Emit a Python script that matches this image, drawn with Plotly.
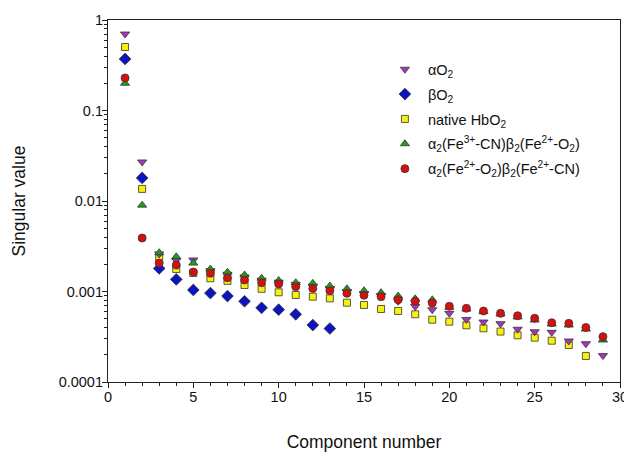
import plotly.graph_objects as go

components = list(range(1, 30))

alpha_O2 = [0.70, 0.027, 0.0026, 0.0022, 0.00223, 0.0017, 0.00155, 0.00145, 0.00133,
            0.00127, 0.0012, 0.00115, 0.00108, 0.001, 0.00095, 0.0009, 0.00078, 0.000683,
            0.000629, 0.000574, 0.000491, 0.00046, 0.000441, 0.000383, 0.000359, 0.000354,
            0.000284, 0.000265, 0.000196]
beta_O2 = [0.371, 0.018, 0.0018, 0.00136, 0.00104, 0.00096, 0.00089, 0.00078, 0.00066,
           0.00063, 0.00056, 0.000426, 0.00039]
native_HbO2 = [0.503, 0.0136, 0.00234, 0.00177, 0.0016, 0.0014, 0.00131, 0.00118, 0.00107,
               0.00098, 0.000915, 0.000876, 0.00084, 0.000752, 0.00071, 0.000641, 0.000609,
               0.00056, 0.000488, 0.000464, 0.000423, 0.000392, 0.000361, 0.000328, 0.000309,
               0.000286, 0.000256, 0.000194]
fe3cn_alpha = [0.20, 0.0090, 0.00268, 0.00242, 0.00206, 0.00177, 0.00163, 0.00152, 0.0014,
               0.00132, 0.00125, 0.00123, 0.00115, 0.00107, 0.00102, 0.00097, 0.00089,
               0.00083, 0.00081, 0.00067, 0.00064, 0.0006, 0.000564, 0.000523, 0.000484,
               0.000437, 0.000426, 0.000385, 0.000291]
fe2cn_beta = [0.229, 0.0039, 0.00206, 0.00196, 0.00164, 0.00159, 0.00142, 0.00134, 0.00125,
              0.00121, 0.00113, 0.00108, 0.00102, 0.000955, 0.000908, 0.000876, 0.000812,
              0.000781, 0.000746, 0.000686, 0.000652, 0.000609, 0.000574, 0.00054, 0.000506,
              0.000452, 0.000445, 0.0004, 0.000317]

y_tick_vals = [1, 0.1, 0.01, 0.001, 0.0001]
y_tick_text = ["1", "0.1", "0.01", "0.001", "0.0001"]

names = [
    "αO<sub>2</sub>",
    "βO<sub>2</sub>",
    "native HbO<sub>2</sub>",
    "α<sub>2</sub>(Fe<sup>3+</sup>-CN)β<sub>2</sub>(Fe<sup>2+</sup>-O<sub>2</sub>)",
    "α<sub>2</sub>(Fe<sup>2+</sup>-O<sub>2</sub>)β<sub>2</sub>(Fe<sup>2+</sup>-CN)",
]
series = [alpha_O2, beta_O2, native_HbO2, fe3cn_alpha, fe2cn_beta]
symbols = ["triangle-down", "diamond", "square", "triangle-up", "circle"]
colors = ["#A23AB5", "#0A14C0", "#F6F20A", "#1AA01A", "#D80F0F"]
sizes = [8, 9, 7, 8, 8]

minor_vals = [k * 10.0 ** e for e in range(-4, 0) for k in range(2, 10)]

fig = go.Figure()
order = [2, 1, 0, 3, 4]
for i in order:
    vals = series[i]
    fig.add_trace(go.Scatter(
        x=components[:len(vals)], y=vals, mode="markers", name=names[i],
        legendgroup="g%d" % i,
        marker=dict(symbol=symbols[i], color=colors[i], size=sizes[i],
                    line=dict(color="#333333", width=0.8)),
        legendrank=i + 1,
    ))

axis_font = dict(family="Liberation Sans, Arial, sans-serif", size=14.5, color="#111")
fig.update_layout(
    width=624, height=444,
    margin=dict(l=100, r=12, t=12, b=70),
    paper_bgcolor="white", plot_bgcolor="white",
    font=dict(family="Liberation Sans, Arial, sans-serif", size=14, color="#111"),
    showlegend=True,
    legend=dict(x=0.535, y=0.908, xanchor="left", yanchor="top",
                bgcolor="rgba(0,0,0,0)", font=dict(size=14.5), tracegroupgap=3,
                itemwidth=36),
    xaxis=dict(range=[0, 30], tickmode="linear", tick0=0, dtick=5,
               ticks="outside", ticklen=5, tickwidth=1, tickcolor="#222",
               ticklabelstandoff=-4,
               minor=dict(ticks="outside", ticklen=3, dtick=1, tickcolor="#222"),
               showline=True, linecolor="#222", linewidth=1.2, mirror=True,
               showgrid=False, zeroline=False, tickfont=axis_font, automargin=False,
               title=dict(text="Component number", font=dict(size=17.5), standoff=32)),
    yaxis=dict(type="log", range=[-4, 0],
               tickmode="array", tickvals=y_tick_vals, ticktext=y_tick_text,
               ticks="outside", ticklen=5, tickwidth=1, tickcolor="#222",
               ticklabelstandoff=-4,
               minor=dict(ticks="outside", ticklen=3, tickcolor="#222", showgrid=False,
                          tickmode="array", tickvals=minor_vals),
               showline=True, linecolor="#222", linewidth=1.2, mirror=True,
               showgrid=False, zeroline=False, tickfont=axis_font, automargin=False,
               title=dict(text="Singular value", font=dict(size=17.5), standoff=28)),
)

fig.write_html("out.html")
